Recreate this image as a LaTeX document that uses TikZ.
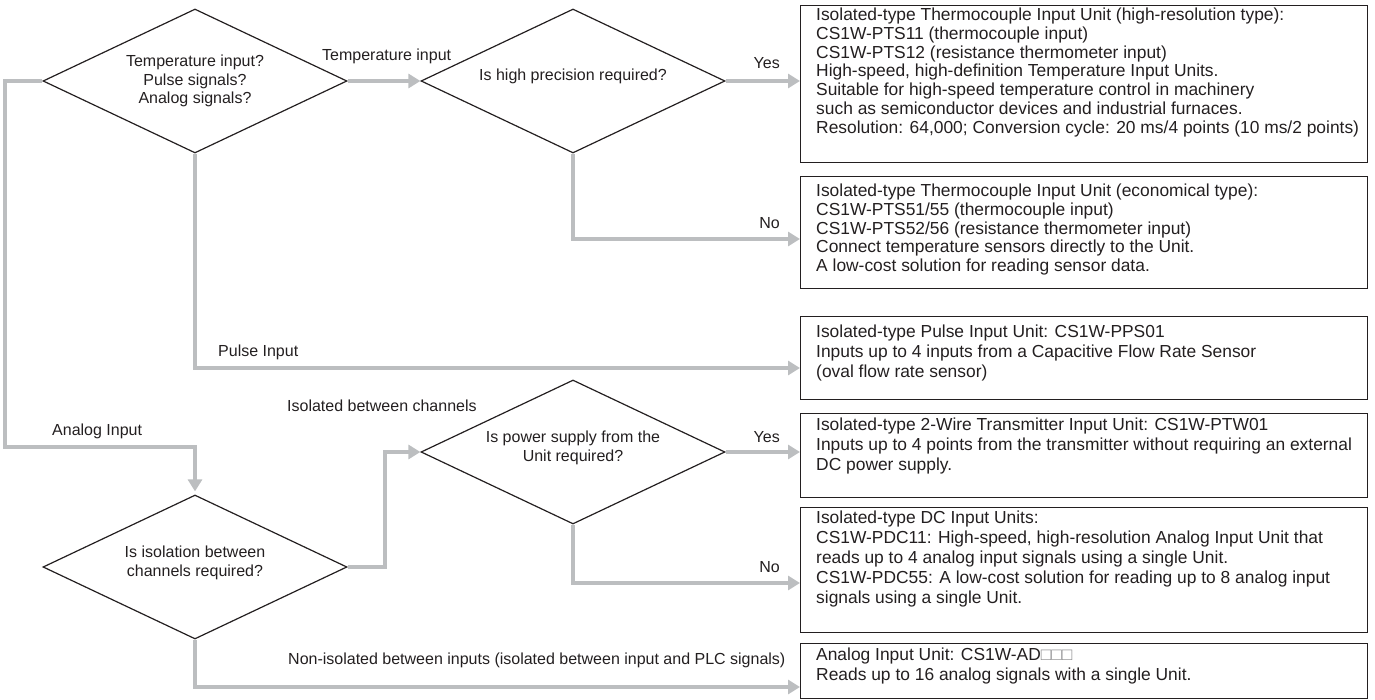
\documentclass[tikz,border=0pt]{standalone}
\usepackage{fontspec}
\setmainfont{Liberation Sans}
\usetikzlibrary{shapes.geometric,arrows.meta}
\definecolor{conn}{RGB}{188,190,192}
\definecolor{ink}{RGB}{35,31,32}
\definecolor{sq}{RGB}{140,140,142}
\begin{document}
\begin{tikzpicture}[x=1pt,y=-1pt,
  decision/.style={draw=ink,line width=1.2pt,shape=diamond,aspect=2.1,inner sep=0pt,
    minimum width=304pt,minimum height=144pt,align=center,text=ink,
    font=\fontsize{16}{18.5}\selectfont},
  unitbox/.style={draw=ink,line width=1.4pt,rectangle,inner sep=0pt,anchor=north west,
    minimum width=567pt},
  boxtext/.style={anchor=north west,inner sep=0pt,align=left,text=ink,
    font=\fontsize{17.4}{19.8}\selectfont},
  lbl/.style={inner sep=0pt,text=ink,font=\fontsize{16}{18.5}\selectfont},
  flow/.style={draw=conn,line width=3.2pt,line join=miter,
    -{Triangle[length=12pt,width=14pt]}},
]
\useasboundingbox (0,0) rectangle (1375,700);

% decisions
\node[decision] (D1) at (195,81) {Temperature input?\\Pulse signals?\\Analog signals?};
\node[decision] (D2) at (573,81) {Is high precision required?\\[-6.5pt]\mbox{}};
\node[decision] (D3) at (195,567) {Is isolation between\\channels required?\\[-6.5pt]\mbox{}};
\node[decision] (D4) at (573,452) {Is power supply from the\\Unit required?\\[-6.5pt]\mbox{}};

% unit boxes
\node[unitbox,minimum height=157pt] (B1) at (800,5) {};
\node[unitbox,minimum height=112pt] (B2) at (800,176) {};
\node[unitbox,minimum height=83pt] (B3) at (800,316) {};
\node[unitbox,minimum height=84pt] (B4) at (800,413) {};
\node[unitbox,minimum height=125pt] (B5) at (800,507) {};
\node[unitbox,minimum height=55pt] (B6) at (800,643) {};

\node[boxtext,font=\fontsize{17.4}{18.7}\selectfont] (T1) at (816,8) {Isolated-type Thermocouple Input Unit (high-resolution type):\\
CS1W-PTS11 (thermocouple input)\\
CS1W-PTS12 (resistance thermometer input)\\
High-speed, high-definition Temperature Input Units.\\
Suitable for high-speed temperature control in machinery\\
such as semiconductor devices and industrial furnaces.\\
Resolution: 64,000; Conversion cycle: 20 ms/4 points (10 ms/2 points)};
\node[boxtext,font=\fontsize{17.4}{18.6}\selectfont] (T2) at (816,184) {Isolated-type Thermocouple Input Unit (economical type):\\
CS1W-PTS51/55 (thermocouple input)\\
CS1W-PTS52/56 (resistance thermometer input)\\
Connect temperature sensors directly to the Unit.\\
A low-cost solution for reading sensor data.};
\node[boxtext] (T3) at (816,325) {Isolated-type Pulse Input Unit: CS1W-PPS01\\
Inputs up to 4 inputs from a Capacitive Flow Rate Sensor\\
(oval flow rate sensor)};
\node[boxtext] (T4) at (816,418) {Isolated-type 2-Wire Transmitter Input Unit: CS1W-PTW01\\
Inputs up to 4 points from the transmitter without requiring an external\\
DC power supply.};
\node[boxtext] (T5) at (816,511) {Isolated-type DC Input Units:\\
CS1W-PDC11: High-speed, high-resolution Analog Input Unit that\\
reads up to 4 analog input signals using a single Unit.\\
CS1W-PDC55: A low-cost solution for reading up to 8 analog input\\
signals using a single Unit.};
\node[boxtext] (T6) at (816,648) {Analog Input Unit: CS1W-AD{\color{sq}□□□}\\
Reads up to 16 analog signals with a single Unit.};

% levels of the connectors
\coordinate (yNo1) at (0,239);
\coordinate (yPulse) at (0,368);
\coordinate (yNo2) at (0,583);
\coordinate (yNon) at (0,687);

% connectors
\draw[flow] (D1.east) -- (D2.west);
\draw[flow] (D2.east) -- (D2.east -| B1.west);
\draw[flow] (D2.south) |- (B2.west |- yNo1);
\draw[flow] (D1.south) |- (B3.west |- yPulse);
\draw[flow,shorten >=3pt] (D1.west) -- (5,81) |- (195,447) -- (D3.north);
\draw[flow] (D3.east) -- (385,567) |- (D4.west);
\draw[flow] (D4.east) -- (D4.east -| B4.west);
\draw[flow] (D4.south) |- (B5.west |- yNo2);
\draw[flow] (D3.south) |- (B6.west |- yNon);

% labels
\node[lbl,anchor=west] (L1) at (322,56) {Temperature input};
\node[lbl,anchor=east] (L2) at (780,63) {Yes};
\node[lbl,anchor=east] (L3) at (780,223) {No};
\node[lbl,anchor=west] (L4) at (218,352) {Pulse Input};
\node[lbl,anchor=west] (L5) at (52,431) {Analog Input};
\node[lbl,anchor=west] (L6) at (287,406) {Isolated between channels};
\node[lbl,anchor=east] (L7) at (780,437) {Yes};
\node[lbl,anchor=east] (L8) at (780,567) {No};
\node[lbl,anchor=west] (L9) at (288,660) {Non-isolated between inputs (isolated between input and PLC signals)};
\end{tikzpicture}
\end{document}
